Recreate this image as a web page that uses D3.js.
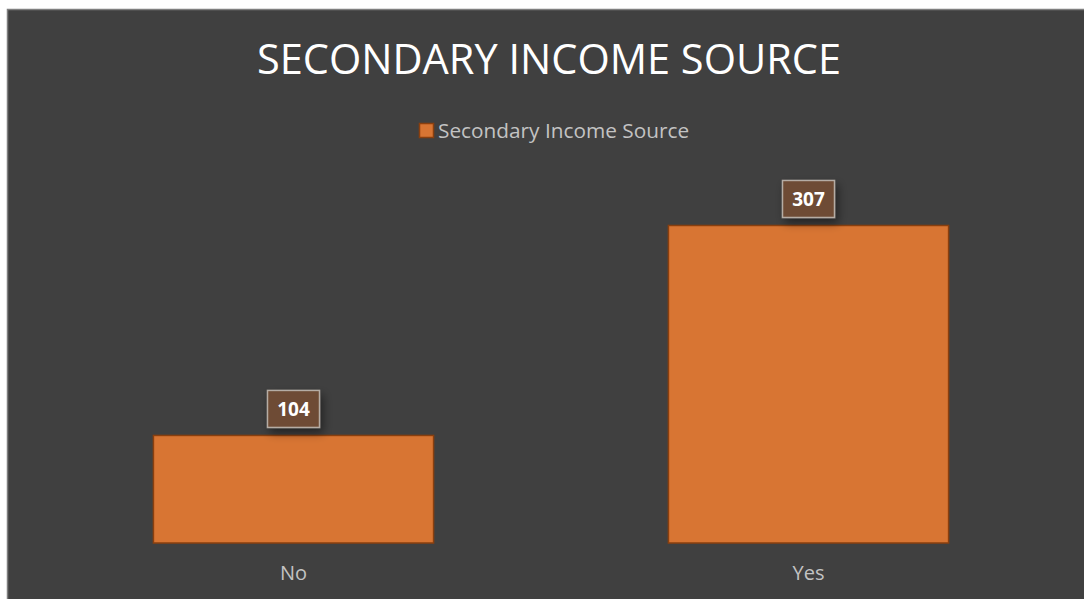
<!DOCTYPE html>
<html>
<head>
<meta charset="utf-8">
<script src="https://cdn.jsdelivr.net/npm/d3@7"></script>
<style>
  html, body { margin: 0; padding: 0; background: #ffffff; }
  svg { display: block; }
</style>
</head>
<body>
<svg id="chart" width="1084" height="599"></svg>
<script>
// Data
const categories = ["No", "Yes"];
const seriesName = "Secondary Income Source";
const values = [104, 307];
const titleText = "SECONDARY INCOME SOURCE";

const W = 1084, H = 599;
const svg = d3.select("#chart");

// Drop shadow used by the value callouts
const defs = svg.append("defs");
const f = defs.append("filter").attr("id", "callout-shadow")
  .attr("x", "-50%").attr("y", "-50%").attr("width", "200%").attr("height", "200%");
f.append("feDropShadow").attr("dx", 3).attr("dy", 5).attr("stdDeviation", 5)
  .attr("flood-color", "#000").attr("flood-opacity", 0.45);

// Chart area background
svg.append("rect")
  .attr("x", 7.5).attr("y", 9.5)
  .attr("width", W).attr("height", H)
  .attr("fill", "#404040")
  .attr("stroke", "#7f7f7f").attr("stroke-width", 1.5);

// Title
svg.append("text")
  .attr("x", 549).attr("y", 74)
  .attr("text-anchor", "middle")
  .attr("font-family", "Open Sans, sans-serif")
  .attr("font-size", 41.5)
  .attr("fill", "#ffffff")
  .text(titleText);

// Legend
const legend = svg.append("g").attr("transform", "translate(419,123)");
legend.append("rect")
  .attr("x", 0.5).attr("y", 0.5).attr("width", 14).attr("height", 14)
  .attr("fill", "#d87533").attr("stroke", "#8a3f0e").attr("stroke-width", 1.5);
legend.append("text")
  .attr("x", 19).attr("y", 14.5)
  .attr("font-family", "Open Sans, sans-serif")
  .attr("font-size", 20.8)
  .attr("fill", "#c3c3c3")
  .text(seriesName);

// Scales
const x = d3.scaleBand().domain(categories).range([36, 1066]).paddingInner(0.456).paddingOuter(0.228);
const y = d3.scaleLinear().domain([0, 350]).range([543, 181]);

// Bars
svg.append("g").selectAll("rect")
  .data(values)
  .join("rect")
  .attr("x", (d, i) => x(categories[i]))
  .attr("y", d => y(d))
  .attr("width", x.bandwidth())
  .attr("height", d => y(0) - y(d))
  .attr("fill", "#d87533")
  .attr("stroke", "#8a3f0e")
  .attr("stroke-width", 1.5);

// Category axis labels
const xAxis = d3.axisBottom(x).tickSize(0).tickPadding(23);
const ax = svg.append("g").attr("transform", `translate(0,${y(0)})`).call(xAxis);
ax.select(".domain").remove();
ax.selectAll("text")
  .attr("font-family", "Open Sans, sans-serif")
  .attr("font-size", 20)
  .attr("fill", "#c3c3c3");

// Value callouts
const callouts = svg.append("g").selectAll("g")
  .data(values)
  .join("g")
  .attr("transform", (d, i) => `translate(${x(categories[i]) + x.bandwidth() / 2},${y(d) - 8})`);
callouts.append("rect")
  .attr("x", -26).attr("y", -37).attr("width", 52).attr("height", 37)
  .attr("fill", "#6e4b34")
  .attr("stroke", "#b5aca4").attr("stroke-width", 1.5)
  .attr("filter", "url(#callout-shadow)");
callouts.append("text")
  .attr("x", 0).attr("y", -11.5)
  .attr("text-anchor", "middle")
  .attr("font-family", "Open Sans, sans-serif")
  .attr("font-weight", "bold")
  .attr("font-size", 19)
  .attr("fill", "#ffffff")
  .text(d => d);
</script>
</body>
</html>
